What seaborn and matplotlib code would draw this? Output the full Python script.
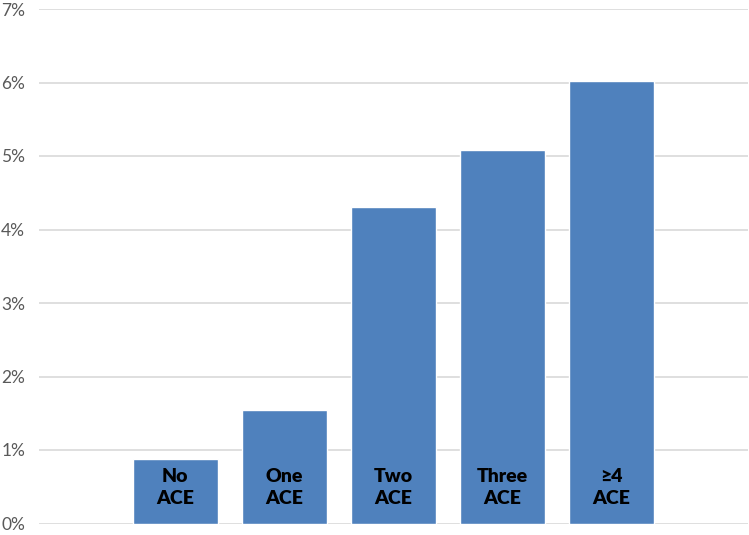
import matplotlib
matplotlib.use("Agg")
import matplotlib.pyplot as plt
import seaborn as sns
import pandas as pd
from matplotlib.ticker import FuncFormatter

categories = ["No\nACE", "One\nACE", "Two\nACE", "Three\nACE", "≥4\nACE"]
values = [0.88, 1.54, 4.30, 5.08, 6.02]
y_ticks = [0, 1, 2, 3, 4, 5, 6, 7]

df = pd.DataFrame({"category": categories, "value": values})

sns.set_theme(style="white")
plt.rcParams['font.family'] = ['Lato', 'DejaVu Sans']

fig = plt.figure(figsize=(7.49, 5.35), dpi=100)
ax = fig.add_axes([39/749, 11.5/535, (747.5-39)/749, (523.5-9)/535])

sns.barplot(data=df, x="category", y="value", order=categories, color="#4F81BD",
            saturation=1, width=0.78, ax=ax, zorder=3)

for i, (c, v) in enumerate(zip(categories, values)):
    ax.text(i, 0.49, c, ha="center", va="center", fontsize=14, fontweight="heavy",
            color="black", linespacing=1.4, zorder=4)

ax.set_xlim(-1.25, 5.25)
ax.set_ylim(0, 7)
ax.set_yticks(y_ticks)
ax.yaxis.set_major_formatter(FuncFormatter(lambda v, p: f"{int(v)}%"))
ax.tick_params(axis="y", labelsize=12.5, labelcolor="#595959", length=0, pad=10)
ax.set_xticks([])
ax.set_xlabel("")
ax.set_ylabel("")
ax.grid(axis="y", color="#d9d9d9", linewidth=1.2, zorder=0)
ax.set_axisbelow(True)
for s in ax.spines.values():
    s.set_visible(False)

fig.savefig("out.png", dpi=100)
